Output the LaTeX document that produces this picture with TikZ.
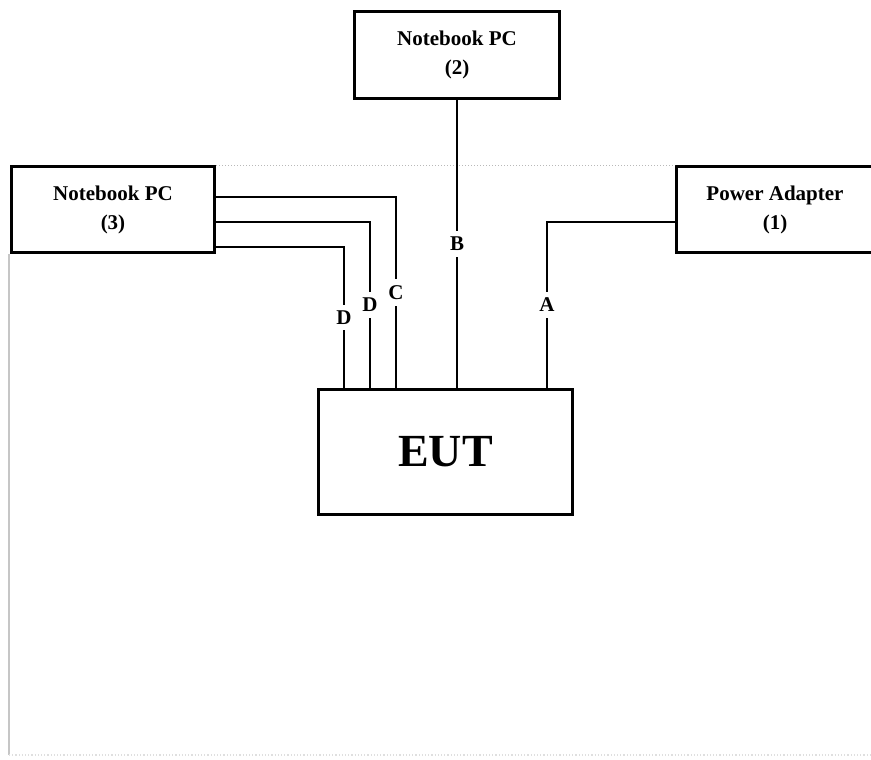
\documentclass[tikz,border=0pt]{standalone}
\usepackage{fontspec}
\setmainfont{Liberation Serif}
\usetikzlibrary{positioning}

\begin{document}
\begin{tikzpicture}[
                    x = 1pt, y = -1pt,
                    align = center,
                    font = \bfseries\fontsize{21}{29}\selectfont,
                    box/.style = {draw, line width = 3pt, inner sep = 0pt},
                    cable/.style = {line width = 2.4pt},
                    tag/.style = {fill = white, inner xsep = 2pt, inner ysep = 6pt, pos = 0.75}]
                \path[use as bounding box, clip] (0,0) rectangle (871,760);
                % boundary of the test area
                \coordinate (edgetop)    at (9,254);
                \coordinate (edgecorner) at (9,755);
                \coordinate (edgeright)  at (871,755);
                \node[box, minimum width = 205, minimum height = 87] (pc2)     at (457,55)    {Notebook PC\\(2)};
                \node[box, minimum width = 203, minimum height = 86] (pc3)     at (113,209.5) {Notebook PC\\(3)};
                \node[box, minimum width = 197, minimum height = 86] (adapter) at (775,209.5) {Power Adapter\\(1)};
                \node[box, minimum width = 254, minimum height = 125,
                      font = \bfseries\fontsize{46}{50}\selectfont] (eut) at (445.5,452) {EUT};
                \draw[gray!55, dotted, line width = 1pt] (pc3.north east) -- (adapter.north west);
                \draw[gray!45, line width = 1.2pt] (edgetop) -- (edgecorner);
                \draw[gray!25, dotted, line width = 1.2pt] (edgecorner) -- (edgeright);
                % cables
                \draw[cable, line width = 2.8pt] (pc3.east |- 0,197) -| (396,0 |- eut.north) node[tag] {C};
                \draw[cable] (pc3.east |- 0,222) -| (370,0 |- eut.north) node[tag] {D};
                \draw[cable] (pc3.east |- 0,247) -| (344,0 |- eut.north) node[tag] {D};
                \draw[cable] (pc2.south) -- (pc2 |- eut.north) node[tag, midway] {B};
                \draw[cable] (adapter.west |- 0,222) -| (547,0 |- eut.north) node[tag] {A};
            \end{tikzpicture}
\end{document}
